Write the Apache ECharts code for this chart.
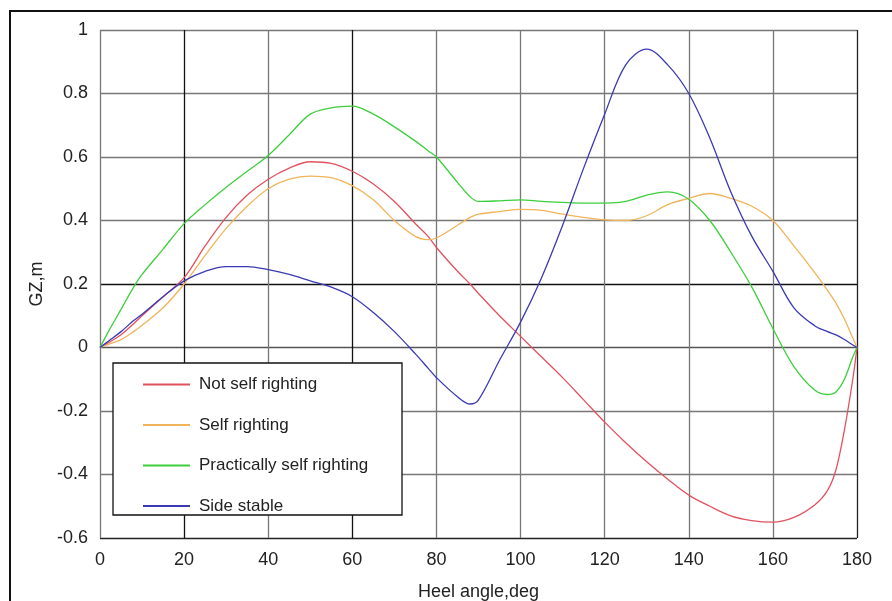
<!DOCTYPE html>
<html>
<head>
<meta charset="utf-8">
<script src="https://cdn.jsdelivr.net/npm/echarts@6/dist/echarts.min.js"></script>
<style>
  html, body { margin: 0; padding: 0; background: #fff; }
  #chart { width: 892px; height: 601px; }
</style>
</head>
<body>
<div id="chart"></div>
<script>
  // heel angles (deg) shared by all four GZ curves
  const heel = [0, 2, 5, 8, 10, 15, 20, 25, 30, 35, 40, 45, 50, 55, 60, 65, 70, 75, 78, 80, 85, 88, 90, 95, 100,
    105, 110, 115, 120, 125, 130, 135, 140, 145, 150, 155, 160, 165, 170, 173, 175, 177, 179, 180];

  const notSelfRighting = [0, 0.015, 0.04, 0.075, 0.1, 0.16, 0.22, 0.32, 0.41, 0.48, 0.53, 0.565, 0.585, 0.58, 0.555,
    0.515, 0.46, 0.39, 0.35, 0.315, 0.24, 0.2, 0.17, 0.1, 0.035, -0.03, -0.095, -0.165, -0.235, -0.3, -0.36, -0.415,
    -0.465, -0.5, -0.53, -0.545, -0.55, -0.535, -0.495, -0.45, -0.385, -0.26, -0.1, 0];

  const selfRighting = [0, 0.01, 0.025, 0.05, 0.07, 0.125, 0.2, 0.29, 0.375, 0.445, 0.5, 0.53, 0.54, 0.535, 0.51,
    0.465, 0.4, 0.35, 0.34, 0.345, 0.385, 0.41, 0.42, 0.428, 0.435, 0.432, 0.42, 0.41, 0.402, 0.4, 0.415, 0.45,
    0.47, 0.485, 0.47, 0.445, 0.4, 0.32, 0.235, 0.18, 0.14, 0.09, 0.03, 0];

  const practicallySelfRighting = [0, 0.05, 0.12, 0.19, 0.23, 0.31, 0.39, 0.45, 0.505, 0.555, 0.605, 0.67, 0.735,
    0.755, 0.76, 0.735, 0.695, 0.65, 0.62, 0.6, 0.52, 0.475, 0.46, 0.462, 0.465, 0.46, 0.457, 0.455, 0.455, 0.46,
    0.48, 0.49, 0.467, 0.4, 0.3, 0.19, 0.06, -0.06, -0.135, -0.148, -0.14, -0.1, -0.03, 0];

  const sideStable = [0, 0.02, 0.05, 0.085, 0.105, 0.16, 0.21, 0.24, 0.255, 0.255, 0.245, 0.23, 0.21, 0.19, 0.16,
    0.11, 0.05, -0.02, -0.065, -0.095, -0.155, -0.178, -0.165, -0.04, 0.08, 0.22, 0.385, 0.565, 0.735, 0.89, 0.94,
    0.89, 0.8, 0.66, 0.49, 0.35, 0.24, 0.125, 0.068, 0.05, 0.04, 0.025, 0.008, 0];

  const xTicks = { min: 0, max: 180, interval: 20 };
  const yTicks = { min: -0.6, max: 1, interval: 0.2 };

  const font = "'Liberation Sans', Arial, sans-serif";
  const pair = ys => heel.map((h, i) => [h, ys[i]]);

  const curves = [
    { name: "Not self righting", data: notSelfRighting, color: "#e2525e" },
    { name: "Self righting", data: selfRighting, color: "#f0b45a" },
    { name: "Practically self righting", data: practicallySelfRighting, color: "#3ccf3c" },
    { name: "Side stable", data: sideStable, color: "#3a3ab4" }
  ];

  const chart = echarts.init(document.getElementById("chart"), null, { renderer: "canvas" });
  chart.setOption({
    animation: false,
    textStyle: { fontFamily: font },
    grid: { left: 100, right: 35, top: 30, bottom: 63, outerBoundsMode: "none" },
    xAxis: {
      type: "value", ...xTicks,
      name: "Heel angle,deg", nameLocation: "middle", nameGap: 45,
      nameTextStyle: { fontSize: 18, color: "#222" },
      axisLine: { show: false },
      axisTick: { show: false },
      axisLabel: { fontSize: 18, color: "#222", margin: 13 },
      splitLine: { lineStyle: { width: 1.3, color: ["#777", "#111", "#777", "#111", "#777", "#777", "#777", "#777", "#777", "#222"] } }
    },
    yAxis: {
      type: "value", ...yTicks,
      name: "GZ,m", nameLocation: "middle", nameGap: 49, nameRotate: 90,
      nameTextStyle: { fontSize: 18, color: "#222" },
      axisLine: { show: false },
      axisTick: { show: false },
      axisLabel: { fontSize: 18, color: "#222", margin: 12, formatter: v => String(Math.round(v * 10) / 10) },
      splitLine: { lineStyle: { width: 1.3, color: ["#222", "#777", "#777", "#555", "#111", "#777", "#777", "#777", "#777"] } }
    },
    legend: {
      orient: "vertical", left: 143, top: 376, z: 20,
      itemWidth: 47, itemHeight: 2, itemGap: 23.5, icon: "rect", padding: 0,
      textStyle: { fontSize: 17, color: "#222", lineHeight: 17, padding: [0, 0, 0, 4] },
      data: curves.map(c => c.name)
    },
    graphic: [
      { type: "rect", z: 10, shape: { x: 10, y: 11, width: 900, height: 620 },
        style: { fill: "none", stroke: "#111", lineWidth: 2 } },
      { type: "rect", z: 10, shape: { x: 113, y: 363, width: 289, height: 152 },
        style: { fill: "#fff", stroke: "#111", lineWidth: 1.3 } }
    ],
    series: curves.map(c => ({
      type: "line", name: c.name, data: pair(c.data), smooth: 0.35, showSymbol: false,
      lineStyle: { width: 1.3, color: c.color }, itemStyle: { color: c.color }
    }))
  });
</script>
</body>
</html>
